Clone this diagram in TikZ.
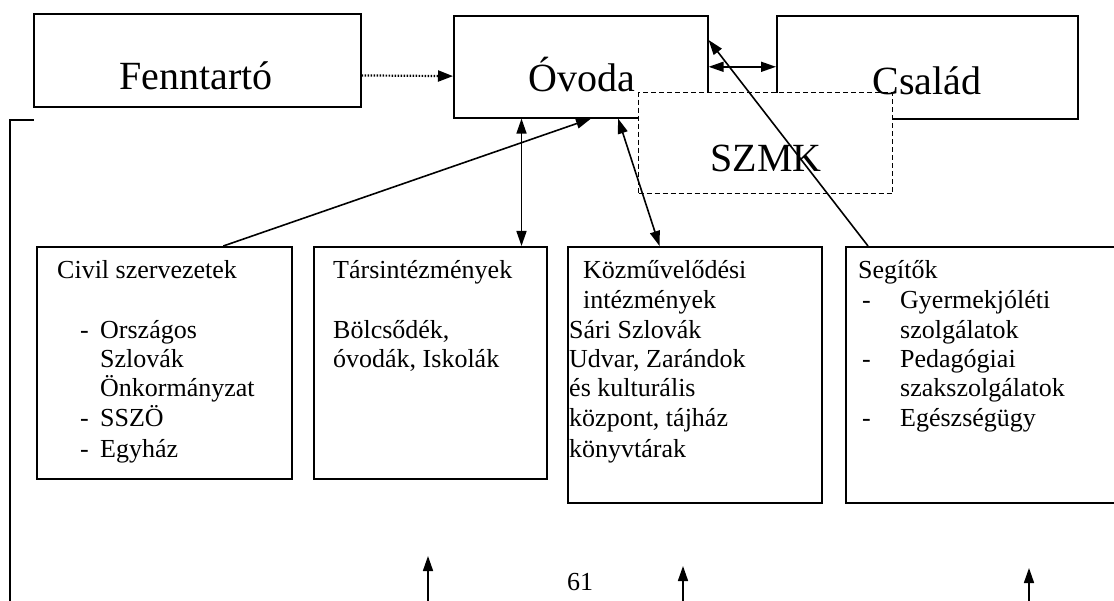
\documentclass[tikz,border=0pt]{standalone}
\usepackage{fontspec}
\setmainfont{Liberation Serif}
\usetikzlibrary{arrows.meta,calc}
\newcommand{\bigfont}{\fontsize{40}{42}\selectfont}
\newcommand{\bodyfont}{\fontsize{26}{29}\selectfont}
\tikzset{
  box/.style={draw, line width=1.6pt, rectangle, anchor=north west, inner sep=0pt, fill=white},
  dbox/.style={box, line width=1.3pt, dash pattern=on 5pt off 3pt},
  ln/.style={anchor=base west, inner sep=0pt, font=\bodyfont},
  big/.style={anchor=base, inner sep=0pt, font=\bigfont},
  arr/.style={line width=1.6pt, -{Triangle[length=15pt,width=10pt]}},
  darr/.style={line width=1.6pt, {Triangle[length=15pt,width=10pt]}-{Triangle[length=15pt,width=10pt]}},
  dotarr/.style={line width=2.2pt, dash pattern=on 1.5pt off 1.5pt, -{Triangle[length=15pt,width=11pt]}}
}
\begin{document}
\begin{tikzpicture}[x=1pt,y=-1pt]
\useasboundingbox (0,0) rectangle (1114,601);
\fill[white] (0,0) rectangle (1114,601);
% top boxes
\node[box, minimum width=327pt, minimum height=93pt] (fenn) at (33,13) {};
\node[box, minimum width=254pt, minimum height=102pt] (ovoda) at (453,15) {};
\node[box, minimum width=301pt, minimum height=103pt] (csalad) at (776,15) {};
\node[dbox, minimum width=254pt, minimum height=101pt] (szmk) at (638,92) {};
\node[big] (fennt) at (196,90) {Fenntartó};
\node[big] (ovodat) at (582,92) {Óvoda};
\node[big] (csaladt) at (927,95) {Család};
\node[big] (szmkt) at (766,172) {SZMK};
% left bracket
\coordinate (brtop) at (10,118);
\coordinate (brtick) at (34,120);
\coordinate (brbot) at (10,601);
\draw[line width=1.6pt] (brbot) -- (brtop |- brtick) -- (brtick);
% bottom boxes
\node[box, minimum width=255pt, minimum height=232pt] (civil) at (36,246) {};
\node[box, minimum width=233pt, minimum height=232pt] (tars) at (313,246) {};
\node[box, minimum width=254pt, minimum height=256pt] (kozm) at (567,246) {};
\node[box, minimum width=280pt, minimum height=256pt] (seg) at (845,246) {};
% civil text
\node[ln] (c1) at (57,279) {Civil szervezetek};
\node[ln] (c2) at (80,339) {\makebox[20pt][l]{-}Országos};
\node[ln] (c3) at (100,368) {Szlovák};
\node[ln] (c4) at (100,397) {Önkormányzat};
\node[ln] (c5) at (80,427) {\makebox[20pt][l]{-}SSZÖ};
\node[ln] (c6) at (80,457) {\makebox[20pt][l]{-}Egyház};
% tars text
\node[ln] (t1) at (333,279) {Társintézmények};
\node[ln] (t2) at (333,339) {Bölcsődék,};
\node[ln] (t3) at (333,368) {óvodák, Iskolák};
% kozm text
\node[ln] (k1) at (583,279) {Közművelődési};
\node[ln] (k2) at (583,309) {intézmények};
\node[ln] (k3) at (569,339) {Sári Szlovák};
\node[ln] (k4) at (569,368) {Udvar, Zarándok};
\node[ln] (k5) at (569,397) {és kulturális};
\node[ln] (k6) at (569,427) {központ, tájház};
\node[ln] (k7) at (569,457) {könyvtárak};
% seg text
\node[ln] (s1) at (858,279) {Segítők};
\node[ln] (s2) at (862,309) {\makebox[38pt][l]{-}Gyermekjóléti};
\node[ln] (s3) at (900,339) {szolgálatok};
\node[ln] (s4) at (862,368) {\makebox[38pt][l]{-}Pedagógiai};
\node[ln] (s5) at (900,397) {szakszolgálatok};
\node[ln] (s6) at (862,427) {\makebox[38pt][l]{-}Egészségügy};
% connectors
\coordinate (ta) at ($(ovoda.south west)!0.268!(ovoda.south east)$);
\draw[dotarr] ($(fenn.north east)!0.66!(fenn.south east)$) -- ($(ovoda.north west)!0.59!(ovoda.south west)$);
\draw[darr] (ovoda.east) -- (ovoda.east -| csalad.west);
\draw[arr] ($(civil.north west)!0.73!(civil.north east)$) -- ($(ovoda.south west)!0.54!(ovoda.south east)$);
\draw[darr] (ta) -- (ta |- tars.north);
\draw[darr] ($(ovoda.south west)!0.646!(ovoda.south east)$) -- ($(kozm.north west)!0.362!(kozm.north east)$);
\draw[arr] ($(seg.north west)+(23,0)$) -- ($(ovoda.north east)+(0,25)$);
% bottom arrows
\coordinate (b1) at (428,601); \coordinate (b1t) at (428,556);
\coordinate (b2) at (683,601); \coordinate (b2t) at (683,566);
\coordinate (b3) at (1029,601); \coordinate (b3t) at (1029,568);
\draw[arr] (b1) -- (b1t);
\draw[arr] (b2) -- (b2t);
\draw[arr] (b3) -- (b3t);
\node[anchor=base, inner sep=0pt, font=\bodyfont] (page) at (580,590) {61};
\end{tikzpicture}
\end{document}
